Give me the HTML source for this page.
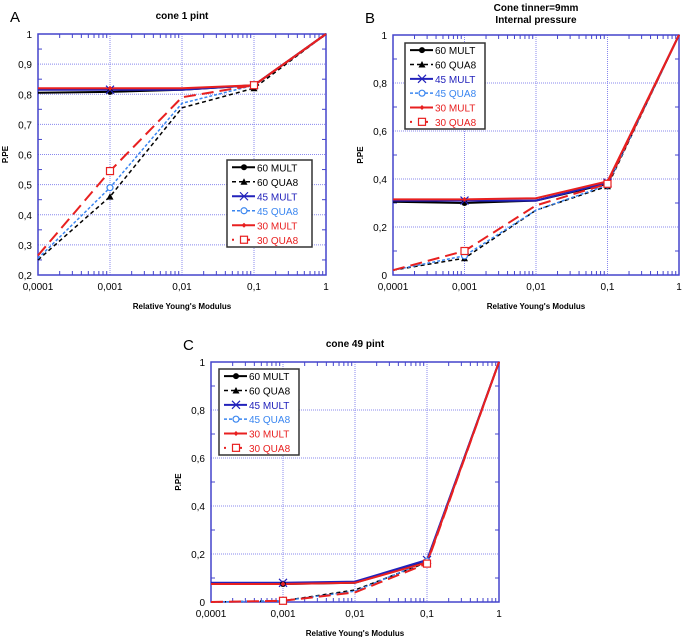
<!DOCTYPE html>
<html><head><meta charset="utf-8"><style>
html,body{margin:0;padding:0;background:#fff;width:685px;height:637px;overflow:hidden}
svg text{font-family:"Liberation Sans",sans-serif}
</style></head><body>
<svg id="fig" width="685" height="637" xmlns="http://www.w3.org/2000/svg"></svg>
<script>
const xTicks = [0.0001, 0.001, 0.01, 0.1, 1];
const xTickLabels = ["0,0001", "0,001", "0,01", "0,1", "1"];
const seriesNames = ["60 MULT", "60 QUA8", "45 MULT", "45 QUA8", "30 MULT", "30 QUA8"];
const aValues = [
  [0.805, 0.808, 0.815, 0.83, 1],
  [0.25, 0.46, 0.755, 0.82, 1],
  [0.815, 0.815, 0.815, 0.83, 1],
  [0.255, 0.49, 0.77, 0.83, 1],
  [0.82, 0.82, 0.82, 0.83, 1],
  [0.265, 0.545, 0.79, 0.83, 1]
];
const bValues = [
  [0.305, 0.30, 0.31, 0.38, 1],
  [0.02, 0.07, 0.27, 0.37, 1],
  [0.31, 0.31, 0.31, 0.385, 1],
  [0.02, 0.08, 0.27, 0.375, 1],
  [0.315, 0.315, 0.32, 0.39, 1],
  [0.02, 0.10, 0.29, 0.38, 1]
];
const cValues = [
  [0.075, 0.075, 0.08, 0.17, 1],
  [0, 0.005, 0.05, 0.165, 1],
  [0.08, 0.08, 0.085, 0.175, 1],
  [0, 0.005, 0.045, 0.17, 1],
  [0.075, 0.075, 0.08, 0.165, 1],
  [0, 0.005, 0.04, 0.16, 1]
];
const aYTicks = [0.2,0.3,0.4,0.5,0.6,0.7,0.8,0.9,1];
const aYLabels = ["0,2","0,3","0,4","0,5","0,6","0,7","0,8","0,9","1"];
const bYTicks = [0,0.2,0.4,0.6,0.8,1];
const bYLabels = ["0","0,2","0,4","0,6","0,8","1"];

const styles = [
  {c:"#000", dash:"", w:2, m:"dot"},
  {c:"#000", dash:"4,3", w:1.5, m:"tri"},
  {c:"#2222bb", dash:"", w:2, m:"x"},
  {c:"#3a86f0", dash:"3,2", w:1.5, m:"circ"},
  {c:"#e82020", dash:"", w:2, m:"dia"},
  {c:"#e82020", dash:"12,6", w:2, m:"sq"}
];
const NS = "http://www.w3.org/2000/svg";
const svg = document.getElementById("fig");
function el(tag, attrs, parent, txt){
  const e = document.createElementNS(NS, tag);
  for (const k in attrs) e.setAttribute(k, attrs[k]);
  if (txt !== undefined) e.textContent = txt;
  (parent || svg).appendChild(e);
  return e;
}
function marker(g, m, x, y, c){
  let e;
  if (m==="dot") e = el("circle",{cx:x,cy:y,r:3,fill:c},g);
  else if (m==="tri") e = el("polygon",{points:`${x},${y-3.5} ${x-3.5},${y+3} ${x+3.5},${y+3}`,fill:c},g);
  else if (m==="x") e = el("path",{d:`M${x-4},${y-4}L${x+4},${y+4}M${x-4},${y+4}L${x+4},${y-4}`,stroke:c,"stroke-width":1.2,fill:"none"},g);
  else if (m==="circ") e = el("circle",{cx:x,cy:y,r:3,fill:"#fff",stroke:c,"stroke-width":1.2},g);
  else if (m==="dia") e = el("polygon",{points:`${x},${y-2.5} ${x+2.5},${y} ${x},${y+2.5} ${x-2.5},${y}`,fill:c},g);
  else e = el("rect",{x:x-3.5,y:y-3.5,width:7,height:7,fill:"#fff",stroke:c,"stroke-width":1.2},g);
  
  
}
function panel(id, letter, titleLines, L, R, T, B, yMin, yMax, yTicks, yLabels, values, leg){
  const g = el("g",{});
  
  
  const xs = v => L + (Math.log10(v) + 4) / 4 * (R - L);
  const ys = v => B - (v - yMin) / (yMax - yMin) * (B - T);
  xTicks.forEach((t,i)=>{
    if (i>0 && i<xTicks.length-1){ const gl = el("line",{x1:xs(t),x2:xs(t),y1:T,y2:B,stroke:"#8888ee","stroke-width":1,"stroke-dasharray":"1,1"},g);
        }
    const tl = el("text",{x:xs(t),y:B+15,"font-size":10,"text-anchor":"middle",fill:"#000"},g,xTickLabels[i]);
     
    if (i<xTicks.length-1){ for(let k=2;k<10;k++){ const xx=xs(t*k);
      el("line",{x1:xx,x2:xx,y1:B,y2:B-4,stroke:"#4444cc","stroke-width":1},g);
      el("line",{x1:xx,x2:xx,y1:T,y2:T+4,stroke:"#4444cc","stroke-width":1},g);} }
  });
  yTicks.forEach((t,i)=>{
    if (i>0 && i<yTicks.length-1){ const gl = el("line",{x1:L,x2:R,y1:ys(t),y2:ys(t),stroke:"#8888ee","stroke-width":1,"stroke-dasharray":"1,1"},g);
        }
    const tl = el("text",{x:L-6,y:ys(t)+4,"font-size":10,"text-anchor":"end",fill:"#000"},g,yLabels[i]);
     
    if (i<yTicks.length-1){ const mid=(yTicks[i]+yTicks[i+1])/2;
      el("line",{x1:L,x2:L+4,y1:ys(mid),y2:ys(mid),stroke:"#4444cc"},g);
      el("line",{x1:R,x2:R-4,y1:ys(mid),y2:ys(mid),stroke:"#4444cc"},g);}
  });
  const fr = el("rect",{x:L,y:T,width:R-L,height:B-T,fill:"none",stroke:"#4444cc","stroke-width":1.5},g);
   
  values.forEach((vals,si)=>{
    const s = styles[si];
    const pts = vals.map((v,i)=>xs(xTicks[i])+","+ys(v)).join(" ");
    const pl = el("polyline",{points:pts,fill:"none",stroke:s.c,"stroke-width":s.w,"stroke-dasharray":s.dash},g);
    
    
  });
  values.forEach((vals,si)=>{ vals.forEach((v,i)=>{ if(i===1 || i===3) marker(g, styles[si].m, xs(xTicks[i]), ys(v), styles[si].c); }); });
  const lg = el("g",{},g);
   
  el("rect",{x:leg[0],y:leg[1],width:leg[2],height:leg[3],fill:"#fff",stroke:"#333","stroke-width":1.5},lg);
  const rh = leg[3]/6;
  seriesNames.forEach((n,si)=>{
    const s=styles[si]; const yy=leg[1]+rh*(si+0.5);
    const e = el("g",{},lg);
     
    el("line",{x1:leg[0]+5,x2:leg[0]+28,y1:yy,y2:yy,stroke:s.c,"stroke-width":s.w,"stroke-dasharray":si===5?"2,6":s.dash},e);
    marker(e,s.m,leg[0]+17,yy,s.c);
    el("text",{x:leg[0]+30,y:yy+4,"font-size":10,fill:s.c},e,n);
  });
  const lt = el("text",{x:L-28,y:T-12,"font-size":15,fill:"#000"},g,letter);
   
  titleLines.forEach((t,i)=>{
    const tt = el("text",{x:(L+R)/2,y:T-(titleLines.length-i)*12+(titleLines.length===1?-3:0),"font-size":10,"font-weight":"bold","text-anchor":"middle"},g,t);
     
  });
  const xl = el("text",{x:(L+R)/2,y:B+34,"font-size":8,"font-weight":"bold","text-anchor":"middle"},g,"Relative Young's Modulus");
   
  const yl = el("text",{x:0,y:0,"font-size":8,"font-weight":"bold","text-anchor":"middle",transform:`translate(${L-30},${(T+B)/2}) rotate(-90)`},g,"P.PE");
   
}
panel("a","A",["cone 1 pint"],38,326,34,275,0.2,1,aYTicks,aYLabels,aValues,[227,160,85,87]);
panel("b","B",["Cone tinner=9mm","Internal pressure"],393,679,35,275,0,1,bYTicks,bYLabels,bValues,[405,43,80,86]);
panel("c","C",["cone 49 pint"],211,499,362,602,0,1,bYTicks,bYLabels,cValues,[219,369,80,86]);
</script>
</body></html>
